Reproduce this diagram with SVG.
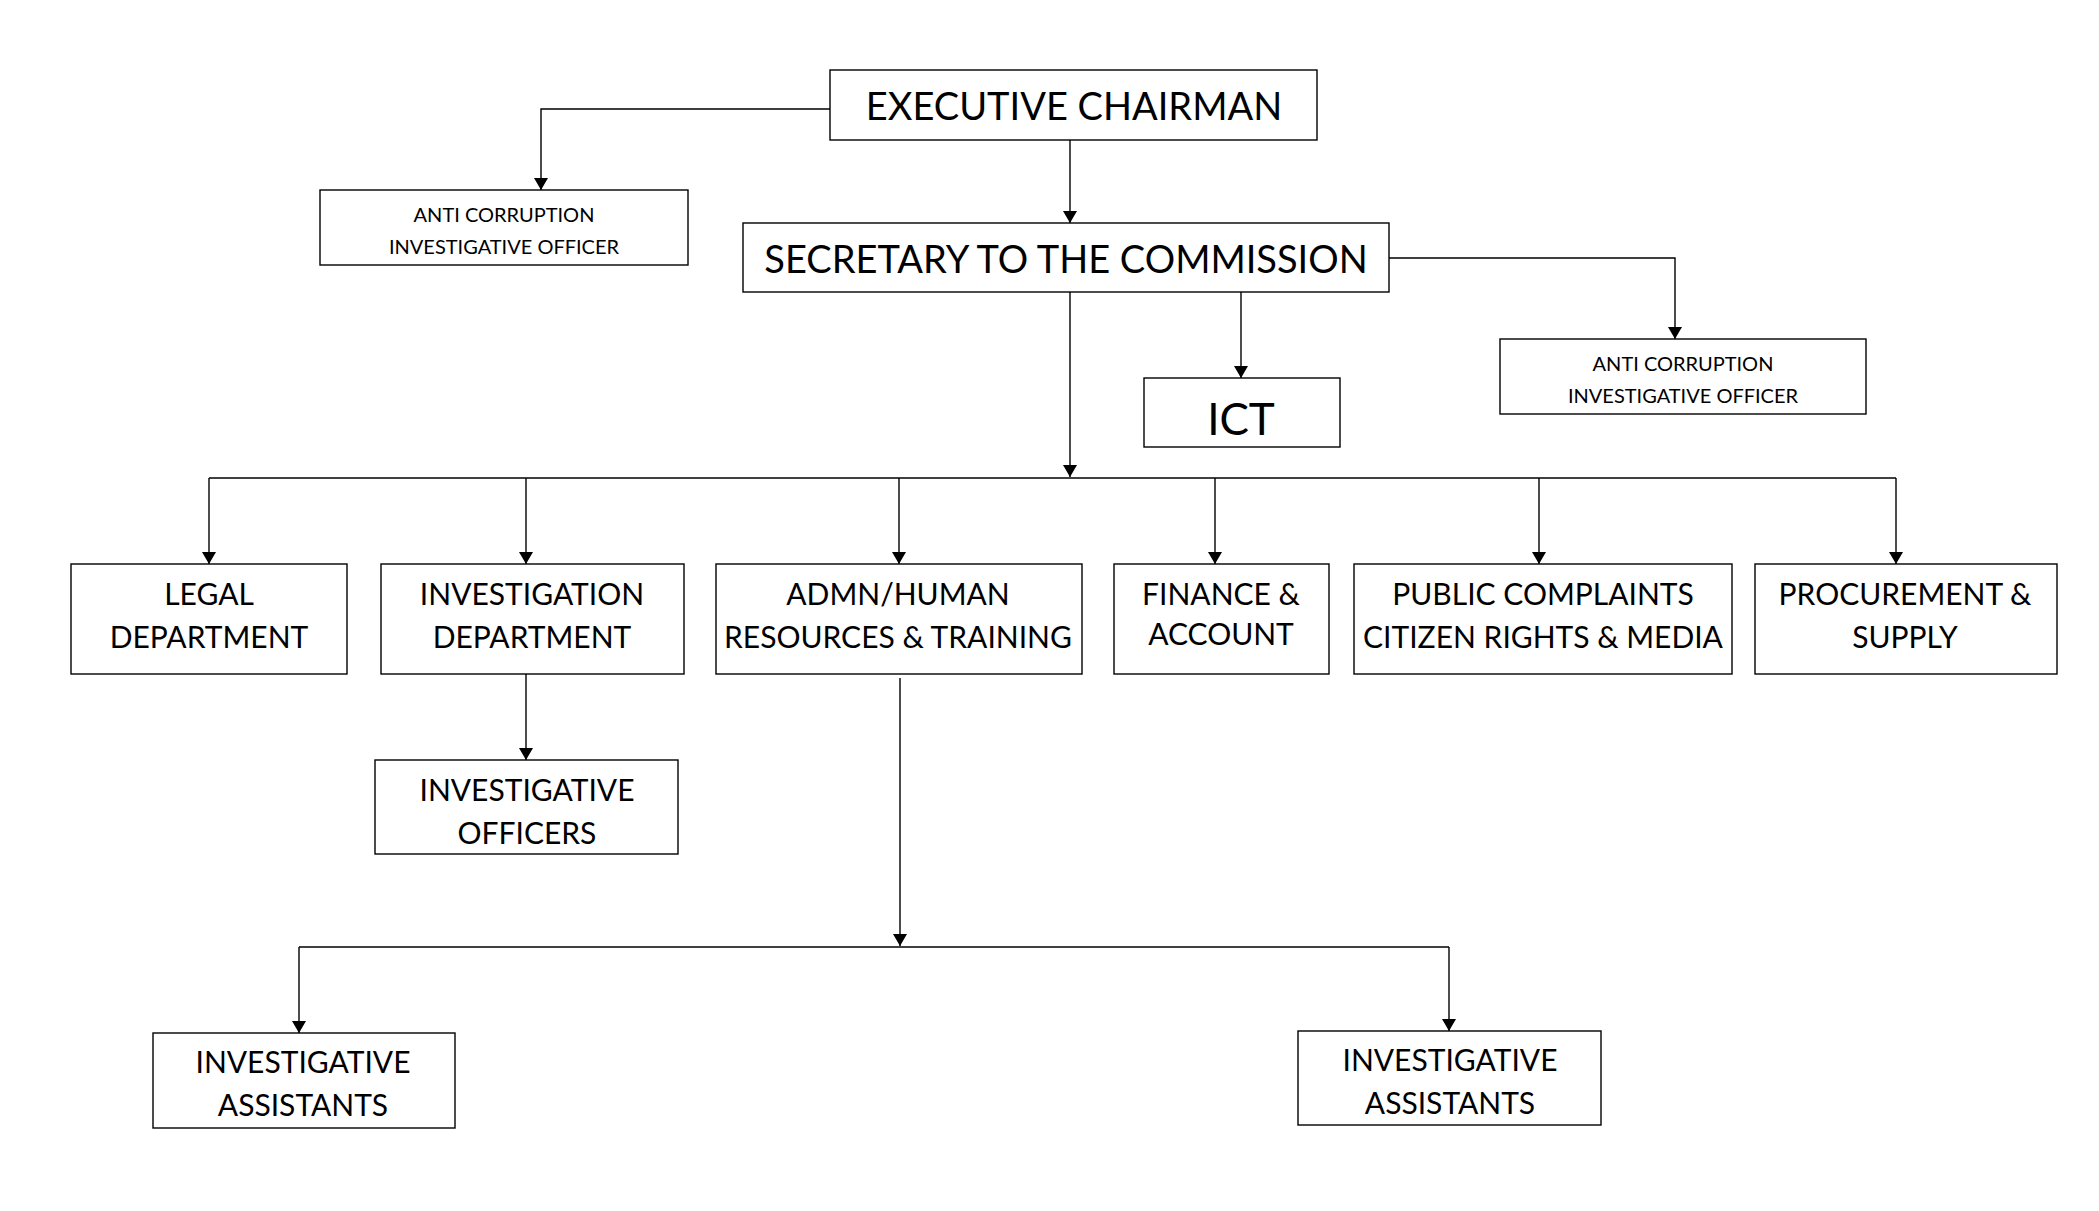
<svg xmlns="http://www.w3.org/2000/svg" width="2099" height="1211" viewBox="0 0 2099 1211">
<style>
.b{fill:#fff;stroke:#000;stroke-width:1.4}
text{font-family:Lato,"Open Sans",sans-serif;fill:#000;text-anchor:middle}
.l{font-size:38px}.m{font-size:30px}.s{font-size:20px}
.c{fill:none;stroke:#000;stroke-width:1.4;marker-end:url(#a)}
.n{fill:none;stroke:#000;stroke-width:1.4}
</style>
<defs><marker id="a" markerWidth="12" markerHeight="14" refX="12" refY="7" orient="auto" markerUnits="userSpaceOnUse"><path d="M0,0L12,7L0,14z" fill="#000"/></marker></defs>
<rect width="2099" height="1211" fill="#fff"/>
<g id="connectors">
<path class="c" d="M830,109H541V190"/>
<path class="c" d="M1070,140V223"/>
<path class="c" d="M1070,292V477"/>
<path class="n" d="M209,478H1896"/>
<path class="c" d="M209,478V564"/><path class="c" d="M526,478V564"/><path class="c" d="M899,478V564"/>
<path class="c" d="M1215,478V564"/><path class="c" d="M1539,478V564"/><path class="c" d="M1896,478V564"/>
<path class="c" d="M1241,292V378"/>
<path class="c" d="M1389,258H1675V339"/>
<path class="c" d="M526,674V760"/>
<path class="c" d="M900,678V946"/>
<path class="n" d="M299,947H1449"/>
<path class="c" d="M299,947V1033"/><path class="c" d="M1449,947V1031"/>
</g>
<g id="exec"><rect class="b" x="830" y="70" width="487" height="70"/><text class="l" x="1074" y="120">EXECUTIVE CHAIRMAN</text></g>
<g id="acio1"><rect class="b" x="320" y="190" width="368" height="75"/><text class="s" x="504" y="222">ANTI CORRUPTION</text><text class="s" x="504" y="254">INVESTIGATIVE OFFICER</text></g>
<g id="sec"><rect class="b" x="743" y="223" width="646" height="69"/><text class="l" x="1066" y="273">SECRETARY TO THE COMMISSION</text></g>
<g id="ict"><rect class="b" x="1144" y="378" width="196" height="69"/><text x="1241" y="435" style="font-size:44px">ICT</text></g>
<g id="acio2"><rect class="b" x="1500" y="339" width="366" height="75"/><text class="s" x="1683" y="371">ANTI CORRUPTION</text><text class="s" x="1683" y="403">INVESTIGATIVE OFFICER</text></g>
<g id="legal"><rect class="b" x="71" y="564" width="276" height="110"/><text class="m" x="209" y="605">LEGAL</text><text class="m" x="209" y="648">DEPARTMENT</text></g>
<g id="invdept"><rect class="b" x="381" y="564" width="303" height="110"/><text class="m" x="532" y="605">INVESTIGATION</text><text class="m" x="532" y="648">DEPARTMENT</text></g>
<g id="admn"><rect class="b" x="716" y="564" width="366" height="110"/><text class="m" x="898" y="605">ADMN/HUMAN</text><text class="m" x="898" y="648">RESOURCES &amp; TRAINING</text></g>
<g id="finance"><rect class="b" x="1114" y="564" width="215" height="110"/><text class="m" x="1221" y="605">FINANCE &amp;</text><text class="m" x="1221" y="645">ACCOUNT</text></g>
<g id="public"><rect class="b" x="1354" y="564" width="378" height="110"/><text class="m" x="1543" y="605">PUBLIC COMPLAINTS</text><text class="m" x="1543" y="648">CITIZEN RIGHTS &amp; MEDIA</text></g>
<g id="proc"><rect class="b" x="1755" y="564" width="302" height="110"/><text class="m" x="1905" y="605">PROCUREMENT &amp;</text><text class="m" x="1905" y="648">SUPPLY</text></g>
<g id="invoff"><rect class="b" x="375" y="760" width="303" height="94"/><text class="m" x="527" y="801">INVESTIGATIVE</text><text class="m" x="527" y="844">OFFICERS</text></g>
<g id="ia1"><rect class="b" x="153" y="1033" width="302" height="95"/><text class="m" x="303" y="1073">INVESTIGATIVE</text><text class="m" x="303" y="1116">ASSISTANTS</text></g>
<g id="ia2"><rect class="b" x="1298" y="1031" width="303" height="94"/><text class="m" x="1450" y="1071">INVESTIGATIVE</text><text class="m" x="1450" y="1114">ASSISTANTS</text></g>
</svg>
